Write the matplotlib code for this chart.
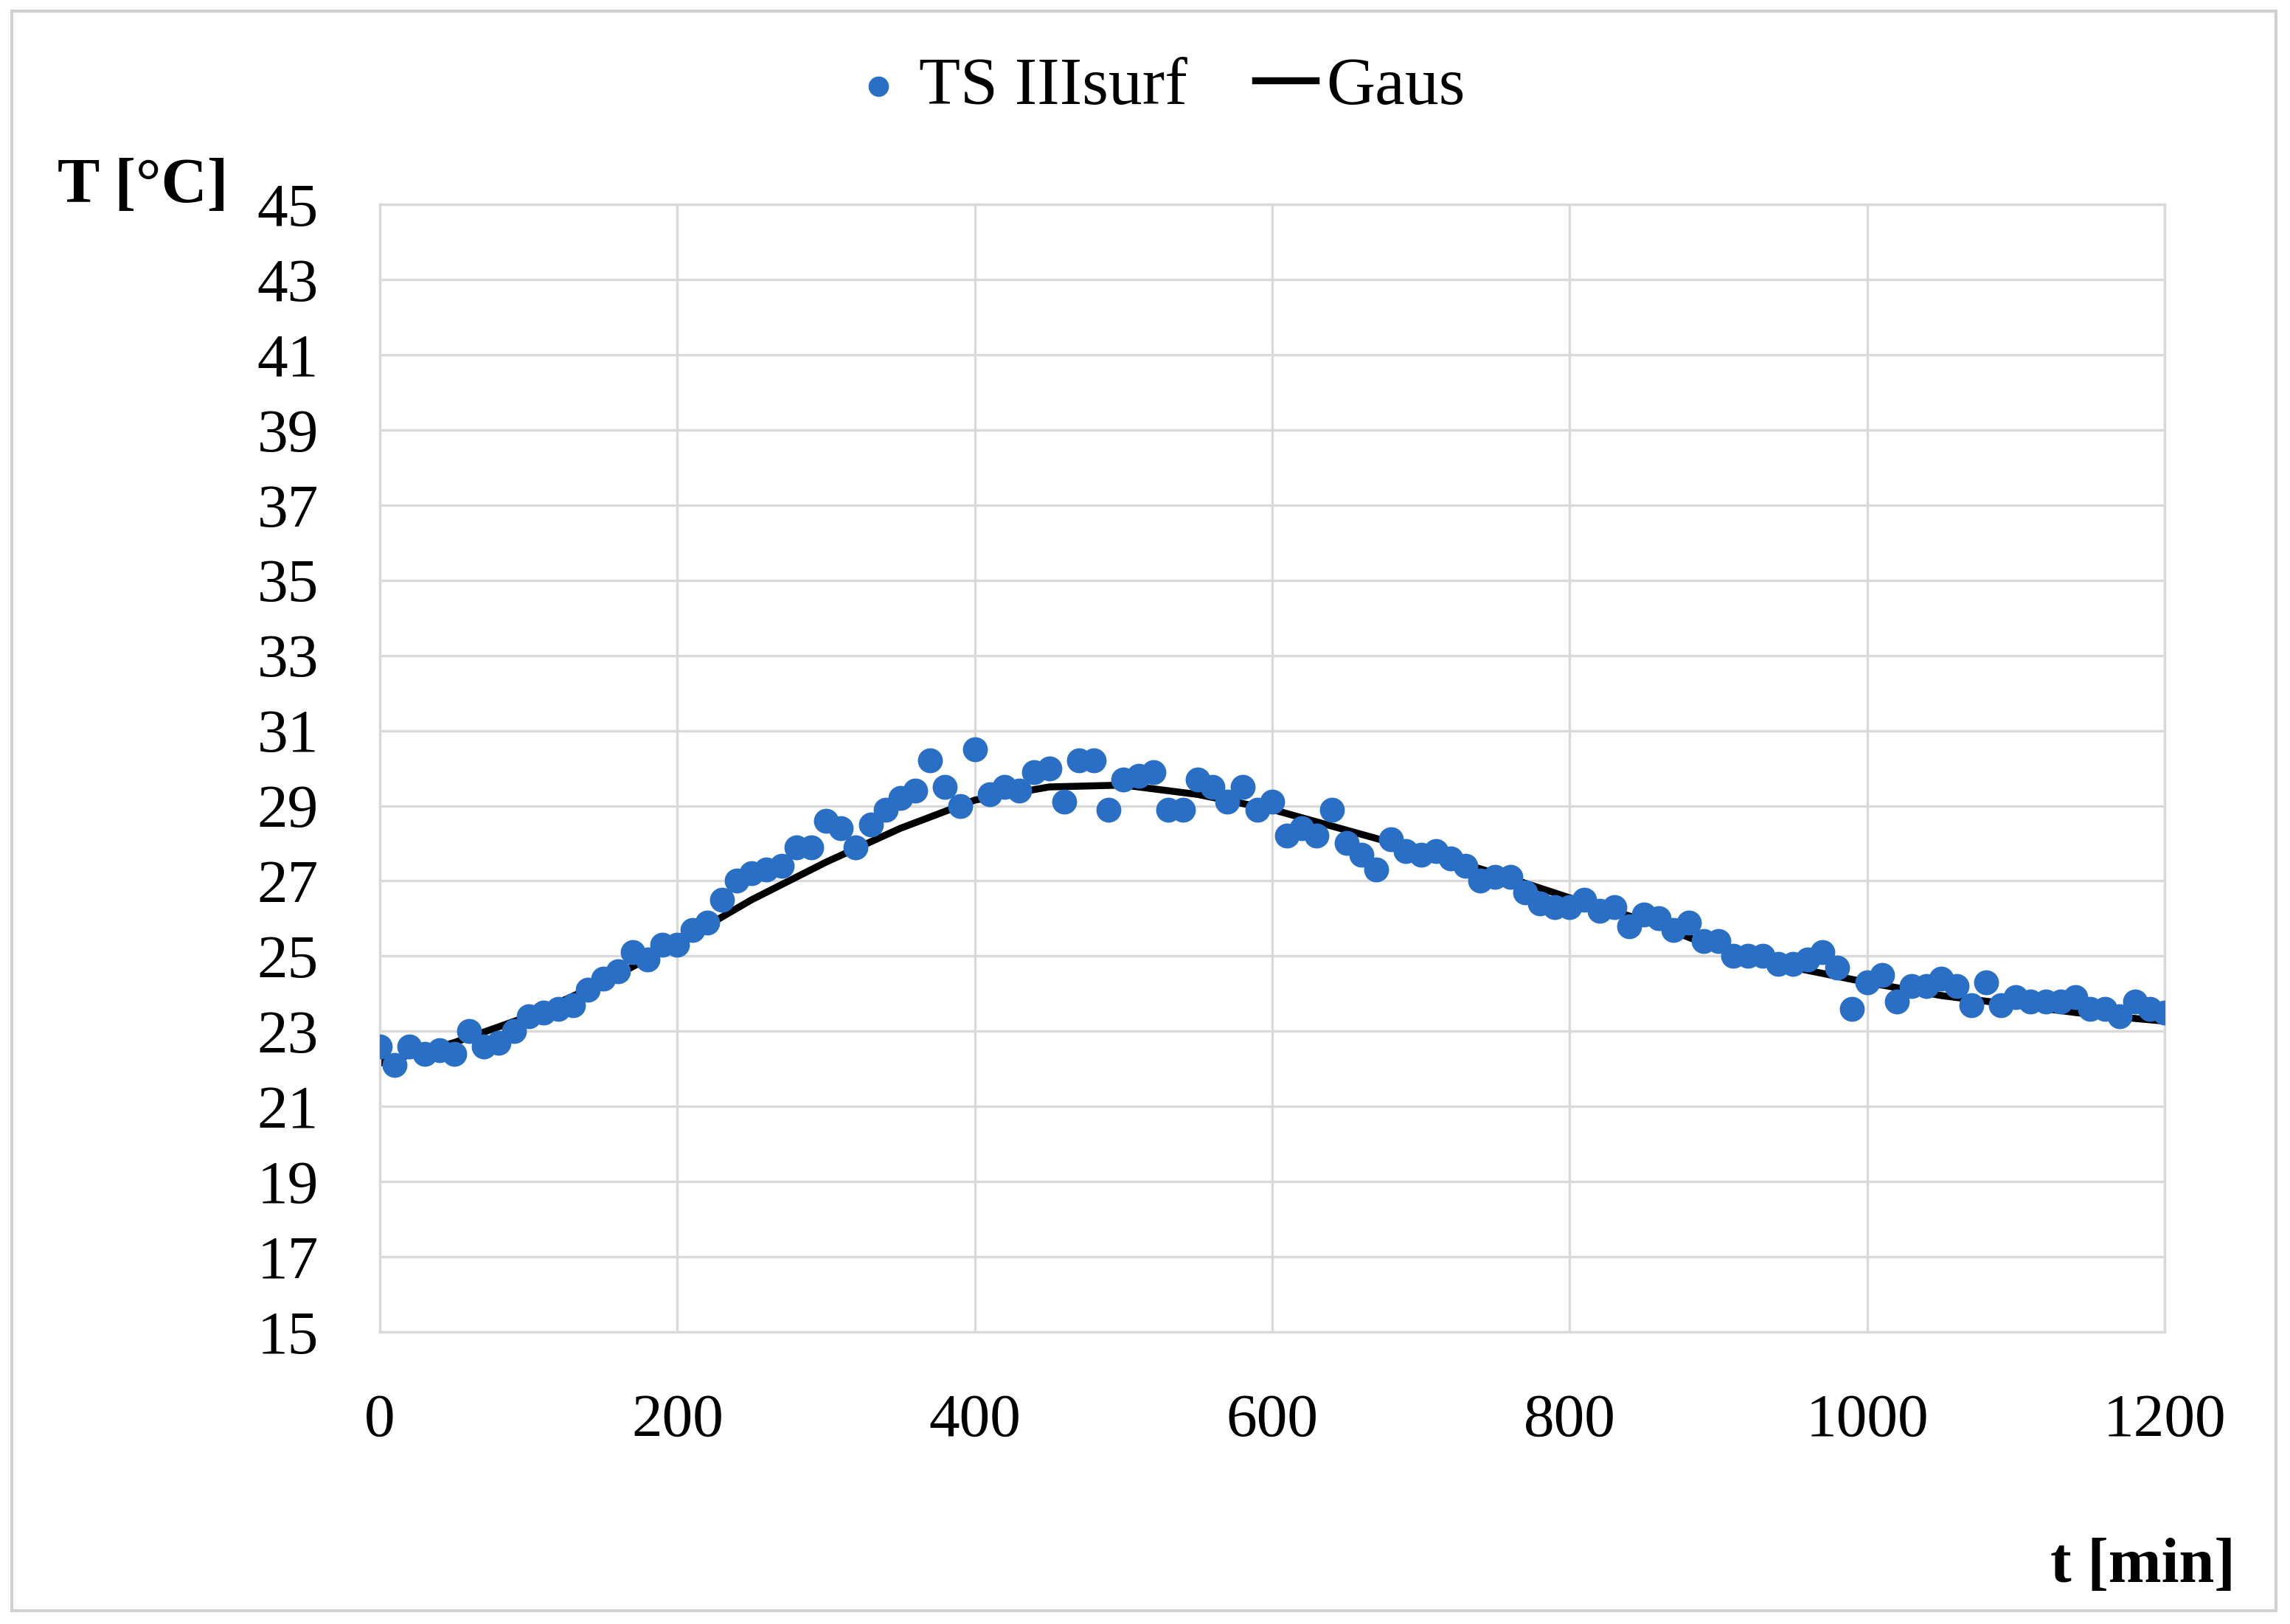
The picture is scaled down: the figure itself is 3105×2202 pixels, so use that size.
import numpy as np
import matplotlib.pyplot as plt
from matplotlib.patches import Rectangle

plt.rcParams['font.family'] = ['Liberation Serif', 'DejaVu Serif']

# measured points, every 10 min
t_meas = list(range(0, 1201, 10))
T_meas = [22.6, 22.1, 22.6, 22.4, 22.5, 22.4, 23.0, 22.6, 22.7, 23.0,
          23.4, 23.5, 23.6, 23.7, 24.1, 24.4, 24.6, 25.1, 24.9, 25.3,
          25.3, 25.7, 25.9, 26.5, 27.0, 27.2, 27.3, 27.4, 27.9, 27.9,
          28.6, 28.4, 27.9, 28.5, 28.9, 29.2, 29.4, 30.2, 29.5, 29.0,
          30.5, 29.3, 29.5, 29.4, 29.9, 30.0, 29.1, 30.2, 30.2, 28.9,
          29.7, 29.8, 29.9, 28.9, 28.9, 29.7, 29.5, 29.1, 29.5, 28.9,
          29.1, 28.2, 28.4, 28.2, 28.9, 28.0, 27.7, 27.3, 28.1, 27.8,
          27.7, 27.8, 27.6, 27.4, 27.0, 27.1, 27.1, 26.7, 26.4, 26.3,
          26.3, 26.5, 26.2, 26.3, 25.8, 26.1, 26.0, 25.7, 25.9, 25.4,
          25.4, 25.0, 25.0, 25.0, 24.8, 24.8, 24.9, 25.1, 24.7, 23.6,
          24.3, 24.5, 23.8, 24.2, 24.2, 24.4, 24.2, 23.7, 24.3, 23.7,
          23.9, 23.8, 23.8, 23.8, 23.9, 23.6, 23.6, 23.4, 23.8, 23.6,
          23.5]

# fitted curve, read every 50 min
t_fit = list(range(0, 1201, 50))
T_fit = [22.15, 22.7, 23.4, 24.3, 25.35, 26.5, 27.5, 28.4, 29.15, 29.5,
         29.55, 29.3, 28.9, 28.35, 27.8, 27.2, 26.55, 25.95, 25.2, 24.7,
         24.3, 23.95, 23.7, 23.45, 23.27]

fig = plt.figure(figsize=(15.525, 11.01), dpi=200)
ax = fig.add_axes([0.1659, 0.1798, 0.7793, 0.6944])

ax.scatter(t_meas, T_meas, s=125, color='#2a6fc6', label='TS IIIsurf', zorder=3)
ax.plot(t_fit, T_fit, color='black', lw=3.4, label='Gaus', zorder=2,
        solid_joinstyle='round')

ax.set_xlim(0, 1200)
ax.set_ylim(15, 45)
ax.set_xticks(range(0, 1201, 200))
ax.set_yticks(range(15, 46, 2))
ax.grid(True, color='#d9d9d9', lw=1.2)
ax.set_axisbelow(True)
for s in ax.spines.values():
    s.set_color('#d9d9d9')
    s.set_linewidth(1.2)
ax.tick_params(axis='both', length=0, labelsize=30)
ax.tick_params(axis='x', pad=30)
ax.tick_params(axis='y', pad=30)

fig.text(0.025, 0.885, 'T [°C]', fontsize=31, fontweight='bold', va='center', ha='left')
fig.text(0.976, 0.035, 't [min]', fontsize=31, fontweight='bold', va='center', ha='right')

fig.legend(loc='center', bbox_to_anchor=(0.505, 0.946), ncol=2, frameon=False,
           fontsize=33, handlelength=0.9, handletextpad=0.15, columnspacing=1.0,
           markerscale=0.8)

fig.add_artist(Rectangle((0.005, 0.008), 0.989, 0.985, transform=fig.transFigure,
                         fill=False, edgecolor='#d0d0d0', lw=1.5))

fig.savefig('out.png', dpi=200)
